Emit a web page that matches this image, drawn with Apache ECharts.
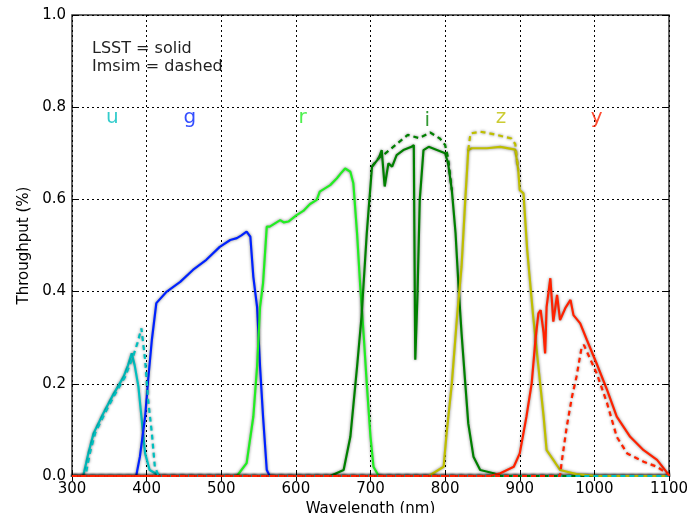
<!DOCTYPE html>
<html>
<head>
<meta charset="utf-8">
<script src="https://cdn.jsdelivr.net/npm/echarts@6/dist/echarts.min.js"></script>
<style>
  html, body { margin: 0; padding: 0; background: #fff; }
  #chart { width: 691px; height: 513px; }
</style>
</head>
<body>
<div id="chart"></div>
<script>
// wavelength (nm), throughput pairs
var uSolid = [[300,0],[315,0],[322,0.05],[329,0.093],[342,0.136],[355,0.176],[369,0.215],[375,0.24],[380,0.266],[384,0.24],[389,0.194],[393,0.129],[398,0.049],[404,0.013],[418,0],[1100,0]];
var uDashed = [[300,0],[318,0],[324,0.05],[331,0.093],[344,0.136],[357,0.176],[371,0.215],[382,0.26],[388,0.29],[393,0.32],[398,0.252],[402,0.165],[407,0.093],[411,0.02],[416,0],[1100,0]];
var gSolid = [[300,0],[386,0],[391,0.042],[398,0.129],[402,0.208],[407,0.295],[413,0.375],[427,0.40],[445,0.421],[462,0.447],[480,0.469],[498,0.497],[512,0.512],[521,0.516],[527,0.522],[534,0.53],[539,0.519],[543,0.432],[548,0.367],[552,0.237],[556,0.129],[561,0.013],[565,0],[1100,0]];
var rSolid = [[300,0],[521,0],[534,0.028],[543,0.129],[548,0.237],[552,0.367],[556,0.418],[561,0.541],[565,0.541],[572,0.548],[579,0.555],[584,0.55],[590,0.552],[601,0.566],[610,0.575],[619,0.59],[628,0.599],[632,0.617],[646,0.631],[655,0.646],[661,0.658],[666,0.667],[673,0.66],[677,0.635],[682,0.526],[686,0.418],[691,0.302],[695,0.201],[700,0.085],[704,0.02],[711,0],[1100,0]];
var iSolid = [[300,0],[646,0],[664,0.013],[673,0.085],[682,0.237],[688,0.346],[695,0.526],[702,0.671],[711,0.689],[715,0.707],[719,0.628],[724,0.678],[729,0.671],[735,0.696],[744,0.707],[755,0.714],[758,0.718],[760,0.252],[763,0.396],[766,0.599],[771,0.707],[778,0.714],[789,0.707],[800,0.70],[804,0.678],[809,0.62],[814,0.526],[818,0.41],[822,0.31],[827,0.201],[831,0.114],[838,0.042],[847,0.013],[865,0.006],[875,0],[1100,0]];
var iDashed = [[702,0.671],[711,0.69],[720,0.70],[735,0.72],[750,0.74],[765,0.733],[780,0.745],[793,0.732],[800,0.718],[804,0.69],[809,0.62]];
var zSolid = [[300,0],[778,0],[784,0.006],[798,0.02],[802,0.093],[809,0.201],[816,0.346],[822,0.454],[827,0.599],[831,0.707],[836,0.711],[856,0.711],[874,0.714],[894,0.708],[898,0.664],[900,0.62],[905,0.613],[910,0.49],[918,0.346],[925,0.237],[932,0.129],[936,0.056],[945,0.035],[954,0.013],[976,0.004],[1003,0],[1100,0]];
var zDashed = [[831,0.707],[834,0.743],[847,0.747],[869,0.74],[889,0.732],[894,0.72],[898,0.664]];
var ySolid = [[300,0],[860,0],[874,0.006],[892,0.02],[900,0.049],[909,0.129],[916,0.201],[921,0.295],[925,0.353],[928,0.36],[932,0.31],[934,0.266],[936,0.367],[941,0.429],[945,0.335],[950,0.393],[954,0.338],[961,0.364],[968,0.382],[972,0.349],[981,0.331],[990,0.295],[1003,0.244],[1017,0.187],[1030,0.129],[1048,0.085],[1066,0.056],[1084,0.035],[1099,0.004],[1100,0]];
var yDashed = [[300,0],[954,0],[956,0.028],[963,0.107],[970,0.172],[976,0.215],[983,0.28],[986,0.284],[1003,0.223],[1017,0.158],[1030,0.085],[1044,0.049],[1066,0.031],[1084,0.02],[1099,0.004],[1100,0]];

var bandNames = ['u', 'g', 'r', 'i', 'z', 'y'];
var bandColors = ['#00bfbf', '#0022ff', '#22ee22', '#008000', '#bfbf00', '#ff2200'];
var bandLabelPos = [[354,0.777],[458,0.777],[609,0.777],[776,0.77],[875,0.777],[1003,0.777]];
var xTicks = [300, 1100, 100];
var yTicks = [0, 1, 0.2];

function line(data, color, dashed) {
  return {
    type: 'line', data: data, symbol: 'none', silent: true,
    lineStyle: {
      color: color, width: 2.2, type: dashed ? [5, 4] : 'solid',
      shadowColor: 'rgba(0,0,0,0.5)', shadowBlur: 3
    },
    z: dashed ? 3 : 2
  };
}

var series = [
  line(uSolid, bandColors[0]), line(uDashed, bandColors[0], true),
  line(gSolid, bandColors[1]),
  line(rSolid, bandColors[2]),
  line(iSolid, bandColors[3]), line(iDashed, bandColors[3], true),
  line(zSolid, bandColors[4]), line(zDashed, bandColors[4], true),
  line(ySolid, bandColors[5]), line(yDashed, bandColors[5], true)
];

// band letters
bandNames.forEach(function (n, k) {
  series.push({
    type: 'scatter', symbolSize: 0, silent: true,
    data: [bandLabelPos[k]],
    label: {
      show: true, position: 'inside', formatter: n,
      color: bandColors[k], fontSize: 20, fontFamily: 'DejaVu Sans'
    }
  });
});

var tickFont = { fontFamily: 'DejaVu Sans', fontSize: 15, color: '#000' };
var dotted = { show: true, lineStyle: { color: '#000', type: [2, 3], width: 1 } };
var tick = { inside: true, length: 5, lineStyle: { color: '#000' } };

var chart = echarts.init(document.getElementById('chart'));
chart.setOption({
  animation: false,
  grid: {
    left: 72, right: 22, top: 15, bottom: 37, outerBoundsMode: 'none', containLabel: false,
    show: true, borderColor: '#333', borderWidth: 1.5
  },
  xAxis: [{
    type: 'value', min: xTicks[0], max: xTicks[1], interval: xTicks[2],
    name: 'Wavelength (nm)', nameLocation: 'middle', nameGap: 24,
    nameTextStyle: { fontFamily: 'DejaVu Sans', fontSize: 15, color: '#000' },
    axisLine: { show: false }, axisTick: tick,
    axisLabel: Object.assign({ margin: 6, formatter: function (v) { return String(v); } }, tickFont),
    splitLine: dotted
  }, {
    type: 'value', position: 'top', min: xTicks[0], max: xTicks[1], interval: xTicks[2],
    axisLine: { show: false }, axisTick: tick,
    axisLabel: { show: false }, splitLine: { show: false }
  }],
  yAxis: [{
    type: 'value', min: yTicks[0], max: yTicks[1], interval: yTicks[2],
    name: 'Throughput (%)', nameLocation: 'middle', nameGap: 36,
    nameTextStyle: { fontFamily: 'DejaVu Sans', fontSize: 15, color: '#000' },
    axisLine: { show: false }, axisTick: tick,
    axisLabel: Object.assign({ margin: 6, formatter: function (v) { return v.toFixed(1); } }, tickFont),
    splitLine: dotted
  }, {
    type: 'value', position: 'right', min: yTicks[0], max: yTicks[1], interval: yTicks[2],
    axisLine: { show: false }, axisTick: tick,
    axisLabel: { show: false }, splitLine: { show: false }
  }],
  graphic: [{
    type: 'text', left: 92, top: 40,
    style: { text: 'LSST = solid\nImsim = dashed', font: '16px "DejaVu Sans"', fill: '#222', lineHeight: 18 }
  }],
  series: series
});
</script>
</body>
</html>
